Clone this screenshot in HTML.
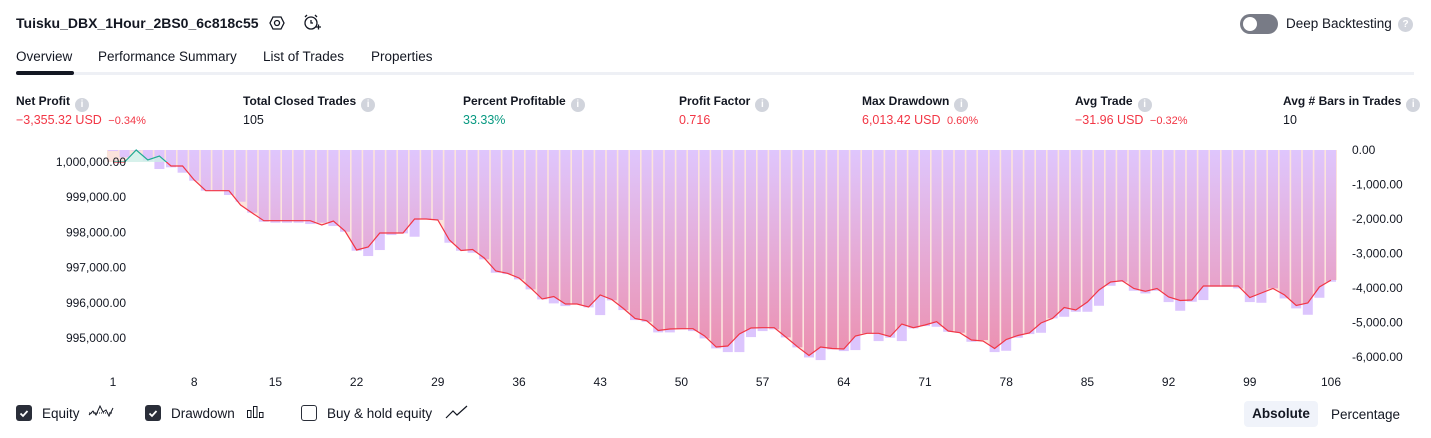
<!DOCTYPE html>
<html><head><meta charset="utf-8">
<style>
body{margin:0;width:1431px;height:438px;background:#fff;font-family:"Liberation Sans",sans-serif;color:#131722;overflow:hidden;position:relative}
.a{position:absolute;white-space:nowrap}
.lbl{font-size:12px;font-weight:bold;color:#131722}
.val{font-size:12.5px}
.info{display:inline-block;width:14px;height:14px;border-radius:50%;background:#d1d4dc;color:#fff;font-size:10px;text-align:center;line-height:14px;font-weight:bold;vertical-align:-2px;margin-left:5px}
.tab{font-size:13.5px;top:49px}
.red{color:#f23645}.grn{color:#089981}
.cb{position:absolute;width:16px;height:16px;border-radius:3px;top:405px}
</style></head><body>
<div class="a" style="left:16px;top:15px;font-size:14px;font-weight:bold">Tuisku_DBX_1Hour_2BS0_6c818c55</div>
<svg class="a" style="left:269px;top:15px" width="16" height="16" viewBox="0 0 16 16"><polygon points="4,2 12,2 15,8 12,14 4,14 1,8" fill="none" stroke="#131722" stroke-width="1.3"/><circle cx="8" cy="8" r="2.5" fill="none" stroke="#131722" stroke-width="1.3"/></svg>
<svg class="a" style="left:303px;top:14px" width="18" height="18" viewBox="0 0 18 18"><circle cx="8" cy="9" r="6" fill="none" stroke="#131722" stroke-width="1.3"/><path d="M8 6v3h2M2 3l2-2M14 3l-2-2M13 13h5M15.5 10.5v5" fill="none" stroke="#131722" stroke-width="1.3"/></svg>
<div class="a" style="left:1240px;top:14px;width:38px;height:20px;border-radius:10px;background:#787b86"><div style="position:absolute;left:3px;top:3px;width:14px;height:14px;border-radius:50%;background:#fff"></div></div>
<div class="a" style="left:1286px;top:16px;font-size:13.5px">Deep Backtesting</div>
<div class="a info" style="left:1393px;top:17px;width:15px;height:15px;line-height:15px">?</div>

<div class="a tab" style="left:16px">Overview</div>
<div class="a tab" style="left:98px">Performance Summary</div>
<div class="a tab" style="left:263px">List of Trades</div>
<div class="a tab" style="left:371px">Properties</div>
<div class="a" style="left:16px;top:72px;width:1398px;height:3px;background:#eef0f5"></div>
<div class="a" style="left:16px;top:71px;width:58px;height:4px;border-radius:2px;background:#131722"></div>

<div class="a lbl" style="left:16px;top:94px">Net Profit<span class="info">i</span></div>
<div class="a val red" style="left:16px;top:113px">−3,355.32 USD <span style="font-size:11px;margin-left:3px">−0.34%</span></div>
<div class="a lbl" style="left:243px;top:94px">Total Closed Trades<span class="info">i</span></div>
<div class="a val" style="left:243px;top:113px">105</div>
<div class="a lbl" style="left:463px;top:94px">Percent Profitable<span class="info">i</span></div>
<div class="a val grn" style="left:463px;top:113px">33.33%</div>
<div class="a lbl" style="left:679px;top:94px">Profit Factor<span class="info">i</span></div>
<div class="a val red" style="left:679px;top:113px">0.716</div>
<div class="a lbl" style="left:862px;top:94px">Max Drawdown<span class="info">i</span></div>
<div class="a val red" style="left:862px;top:113px">6,013.42 USD <span style="font-size:11px;margin-left:3px">0.60%</span></div>
<div class="a lbl" style="left:1075px;top:94px">Avg Trade<span class="info">i</span></div>
<div class="a val red" style="left:1075px;top:113px">−31.96 USD <span style="font-size:11px;margin-left:3px">−0.32%</span></div>
<div class="a lbl" style="left:1283px;top:94px">Avg # Bars in Trades<span class="info">i</span></div>
<div class="a val" style="left:1283px;top:113px">10</div>

<svg id="chart" class="a" style="left:0;top:0" width="1431" height="438">
<defs>
<linearGradient id="gb" gradientUnits="userSpaceOnUse" x1="0" y1="150" x2="0" y2="360"><stop offset="0" stop-color="#dfc6fd"/><stop offset="1" stop-color="#ec8fae"/></linearGradient>
<clipPath id="above"><path id="abovePath"/></clipPath>
<clipPath id="below"><path id="belowPath"/></clipPath>
</defs>
</svg>

<div class="cb" style="left:16px;background:#2a2e39"><svg width="16" height="16"><path d="M4.5 8.5l2.5 2.5 4.5-5" stroke="#fff" stroke-width="1.8" fill="none"/></svg></div>
<div class="a" style="left:42px;top:406px;font-size:13.5px">Equity</div>
<svg class="a" style="left:88px;top:404px" width="26" height="16"><path d="M1 11l4-4 3 4 4-9 3 6 3-2 3 6 4-8" stroke="#131722" fill="none" stroke-width="1"/><line x1="1" y1="9" x2="25" y2="9" stroke="#131722" stroke-dasharray="1 1"/></svg>
<div class="cb" style="left:145px;background:#2a2e39"><svg width="16" height="16"><path d="M4.5 8.5l2.5 2.5 4.5-5" stroke="#fff" stroke-width="1.8" fill="none"/></svg></div>
<div class="a" style="left:171px;top:406px;font-size:13.5px">Drawdown</div>
<svg class="a" style="left:246px;top:405px" width="20" height="14"><rect x="1.5" y="5.5" width="3.5" height="7" fill="none" stroke="#131722"/><rect x="7.5" y="1.5" width="3.5" height="11" fill="none" stroke="#131722"/><rect x="13.5" y="7.5" width="3.5" height="5" fill="none" stroke="#131722"/></svg>
<div class="cb" style="left:301px;border:1.3px solid #2a2e39;box-sizing:border-box;background:#fff"></div>
<div class="a" style="left:327px;top:406px;font-size:13.5px">Buy &amp; hold equity</div>
<svg class="a" style="left:445px;top:404px" width="24" height="16"><path d="M1 14l7-7 4 4 10-9" stroke="#131722" fill="none" stroke-width="1.2"/></svg>
<div class="a" style="left:1244px;top:401px;width:74px;height:26px;border-radius:4px;background:#f0f3fa;font-size:13.5px;font-weight:bold;text-align:center;line-height:26px">Absolute</div>
<div class="a" style="left:1331px;top:407px;font-size:13.5px">Percentage</div>

<script>
const equityDelta = [0,0,341,57,170,-114,-114,-511,-815,-815,-815,-1222,-1449,-1668,-1668,-1668,-1668,-1668,-1790,-1676,-1960,-2500,-2415,-2017,-2017,-2017,-1619,-1619,-1648,-2216,-2514,-2486,-2727,-3097,-3162,-3296,-3580,-3892,-3821,-4034,-4034,-4119,-3778,-3906,-4162,-4446,-4509,-4787,-4745,-4736,-4736,-4943,-5256,-5227,-4886,-4716,-4708,-4708,-4972,-5247,-5497,-5256,-5298,-5313,-4943,-4867,-4867,-4958,-4602,-4708,-4631,-4537,-4801,-4850,-5056,-5085,-5298,-5043,-4929,-4858,-4574,-4441,-4134,-4205,-3977,-3636,-3409,-3372,-3594,-3673,-3594,-3835,-3935,-3920,-3523,-3523,-3523,-3523,-3850,-3722,-3594,-3779,-4077,-4006,-3551,-3355];
const drawdown = [30,212,0,310,551,502,658,890,1180,1180,1305,1499,1818,2079,2108,2108,2108,2146,2108,2204,2369,2920,3074,2900,2465,2416,2514,2001,2030,2688,2920,2978,3170,3558,3596,3750,4040,4330,4446,4524,4475,4562,4785,4359,4640,4930,4979,5287,5287,5200,5249,5461,5751,5858,5858,5423,5249,5200,5432,5722,6013,6090,5780,5829,5800,5316,5539,5442,5539,5171,5104,5124,5269,5298,5559,5510,5858,5820,5442,5336,5298,4881,4834,4689,4689,4515,3935,3819,4080,4157,4080,4408,4660,4399,4350,3964,3964,4011,4408,4428,4011,4302,4591,4776,4283,3819];
const xTicks = [1,8,15,22,29,36,43,50,57,64,71,78,85,92,99,106];
const leftTicks = [1000000,999000,998000,997000,996000,995000];
const rightTicks = [0,-1000,-2000,-3000,-4000,-5000,-6000];
const initialCapital = 1000000;

const NS='http://www.w3.org/2000/svg';
const svg=document.getElementById('chart');
const n=equityDelta.length;
const X=i=>113+(i-1)*(1331-113)/(n-1);
const YL=v=>162+(initialCapital-v)*0.0352;
const YR=v=>150-v*0.0345;
function mk(t,a,p){const e=document.createElementNS(NS,t);for(const k in a)e.setAttribute(k,a[k]);(p||svg).appendChild(e);return e;}
const pts=equityDelta.map((d,i)=>[X(i+1),YL(initialCapital+d)]);
const line='M'+pts.map(p=>p[0].toFixed(1)+' '+p[1].toFixed(1)).join('L');
document.getElementById('abovePath').setAttribute('d',line+`L${X(n)+8} ${pts[n-1][1]}L${X(n)+8} 140L${X(1)-8} 140L${X(1)-8} ${pts[0][1]}Z`);
document.getElementById('belowPath').setAttribute('d',line+`L${X(n)+8} ${pts[n-1][1]}L${X(n)+8} 380L${X(1)-8} 380L${X(1)-8} ${pts[0][1]}Z`);
const gA=mk('g',{'clip-path':'url(#above)'});


const gB=mk('g',{'clip-path':'url(#below)'});


mk('rect',{x:X(1)-6,y:150,width:X(n)-X(1)+12,height:230,fill:'#fbe3dc'},gA);
const bw=10;
drawdown.forEach((d,i)=>{
  const x=X(i+1)-bw/2, y=YR(0), h=Math.max(0.5,YR(-d)-YR(0));
  const r1=mk('rect',{x:x,y:y,width:bw,height:h,fill:'url(#gb)'},gA);
  
  
  const r2=mk('rect',{x:x,y:y,width:bw,height:h,fill:'#dcc5fd'},gB);
  
  
});
// green area above initial capital
const base=YL(initialCapital);
const clipG=mk('clipPath',{id:'upg'},svg.querySelector('defs'));
mk('rect',{x:0,y:0,width:1431,height:base},clipG);
const ga=mk('path',{d:line+`L${X(n)} ${base}L${X(1)} ${base}Z`,fill:'#cdeee6','clip-path':'url(#upg)',opacity:0.8});


const clipR=mk('clipPath',{id:'dnr'},svg.querySelector('defs'));
mk('rect',{x:0,y:base,width:1431,height:300},clipR);
const lr=mk('path',{d:line,fill:'none',stroke:'#f23645','stroke-width':1.2,'clip-path':'url(#dnr)'});


const lg=mk('path',{d:line,fill:'none',stroke:'#22ab94','stroke-width':1.2,'clip-path':'url(#upg)'});


leftTicks.forEach(v=>{
  const t=mk('text',{x:126,y:YL(v)+4,'text-anchor':'end','font-size':12,fill:'#131722'});
  
  
  t.textContent=v.toLocaleString('en-US',{minimumFractionDigits:2});
});
rightTicks.forEach(v=>{
  const t=mk('text',{x:1352,y:YR(v)+4,'font-size':12,fill:'#131722'});
  
  
  t.textContent=(v<0?'-':'')+Math.abs(v).toLocaleString('en-US',{minimumFractionDigits:2});
});
xTicks.forEach(v=>{
  const t=mk('text',{x:X(v),y:386,'text-anchor':'middle','font-size':12,fill:'#131722'});
  
  
  t.textContent=v;
});
</script>
</body></html>
